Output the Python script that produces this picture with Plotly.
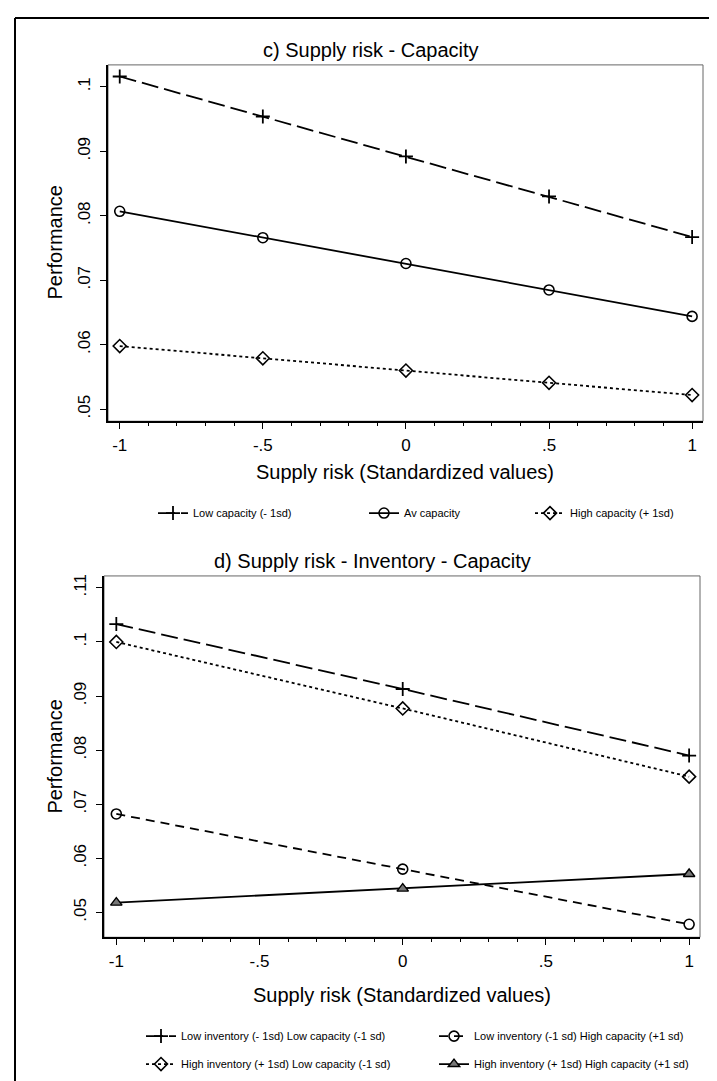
import plotly.graph_objects as go

W, H = 717, 1081

# ---- data ----
x_c = [-1, -0.5, 0, 0.5, 1]
low_cap = [0.1016, 0.0954, 0.0892, 0.0830, 0.0767]
av_cap = [0.0807, 0.0766, 0.0726, 0.0685, 0.0644]
high_cap = [0.0598, 0.0579, 0.0560, 0.0541, 0.0522]

x_d = [-1, 0, 1]
li_lc = [0.1033, 0.0913, 0.0790]
li_hc = [0.0682, 0.0580, 0.0478]
hi_lc = [0.1000, 0.0877, 0.0751]
hi_hc = [0.0518, 0.0544, 0.0571]

x_tickvals = [-1, -0.5, 0, 0.5, 1]
x_ticktext = ["-1", "-.5", "0", ".5", "1"]
yc_tickvals = [0.05, 0.06, 0.07, 0.08, 0.09, 0.10]
yc_ticktext = [".05", ".06", ".07", ".08", ".09", ".1"]
yd_tickvals = [0.05, 0.06, 0.07, 0.08, 0.09, 0.10, 0.11]
yd_ticktext = [".05", ".06", ".07", ".08", ".09", ".1", ".11"]

title_c = "c) Supply risk - Capacity"
title_d = "d) Supply risk - Inventory - Capacity"
x_title = "Supply risk (Standardized values)"
y_title = "Performance"
names_c = ["Low capacity (- 1sd)", "Av capacity", "High capacity (+ 1sd)"]
names_d = ["Low inventory (- 1sd) Low capacity (-1 sd)",
           "Low inventory (-1 sd) High capacity (+1 sd)",
           "High inventory (+ 1sd) Low capacity (-1 sd)",
           "High inventory (+ 1sd) High capacity (+1 sd)"]

FONT = "Liberation Sans, Arial, sans-serif"

def px_x(p):
    return p / W

def px_y(p):
    return 1 - p / H

fig = go.Figure()

LW = 1.8
LONG = "17px,6px"
MED = "9px,6px"
DOT = "3px,3px"
# top chart traces
fig.add_trace(go.Scatter(x=x_c, y=low_cap, name=names_c[0], mode="lines+markers",
                         line=dict(color="black", width=LW, dash=LONG),
                         marker=dict(symbol="cross-thin", size=10, line=dict(color="black", width=1.8)),
                         xaxis="x", yaxis="y", legend="legend"))
fig.add_trace(go.Scatter(x=x_c, y=av_cap, name=names_c[1], mode="lines+markers",
                         line=dict(color="black", width=LW),
                         marker=dict(symbol="circle-open", size=10, color="black", line=dict(width=1.6)),
                         xaxis="x", yaxis="y", legend="legend2"))
fig.add_trace(go.Scatter(x=x_c, y=high_cap, name=names_c[2], mode="lines+markers",
                         line=dict(color="black", width=LW, dash=DOT),
                         marker=dict(symbol="diamond-open", size=10, color="black", line=dict(width=1.6)),
                         xaxis="x", yaxis="y", legend="legend3"))

# bottom chart traces
fig.add_trace(go.Scatter(x=x_d, y=li_lc, name=names_d[0], mode="lines+markers",
                         line=dict(color="black", width=LW, dash=LONG),
                         marker=dict(symbol="cross-thin", size=10, line=dict(color="black", width=1.8)),
                         xaxis="x2", yaxis="y2", legend="legend4"))
fig.add_trace(go.Scatter(x=x_d, y=li_hc, name=names_d[1], mode="lines+markers",
                         line=dict(color="black", width=LW, dash=MED),
                         marker=dict(symbol="circle-open", size=10, color="black", line=dict(width=1.6)),
                         xaxis="x2", yaxis="y2", legend="legend5"))
fig.add_trace(go.Scatter(x=x_d, y=hi_lc, name=names_d[2], mode="lines+markers",
                         line=dict(color="black", width=LW, dash=DOT),
                         marker=dict(symbol="diamond-open", size=10, color="black", line=dict(width=1.6)),
                         xaxis="x2", yaxis="y2", legend="legend6"))
fig.add_trace(go.Scatter(x=x_d, y=hi_hc, name=names_d[3], mode="lines+markers",
                         line=dict(color="black", width=LW),
                         marker=dict(symbol="triangle-up", size=10, color="#777777",
                                     line=dict(color="black", width=1.4)),
                         xaxis="x2", yaxis="y2", legend="legend7"))

def xaxis(domain, rng, anchor):
    return dict(domain=domain, range=rng, anchor=anchor,
                tickvals=x_tickvals, ticktext=x_ticktext,
                showline=True, linecolor="black", linewidth=1.5,
                ticks="outside", ticklen=6, tickwidth=1, tickcolor="black",
                minor=dict(dtick=0.1, tick0=0, ticks="outside", ticklen=3,
                           tickcolor="black", tickwidth=1, showgrid=False),
                showgrid=False, zeroline=False,
                tickfont=dict(family=FONT, size=17, color="black"),
                ticklabelstandoff=2)

def yaxis(domain, rng, anchor, tv, tt):
    return dict(domain=domain, range=rng, anchor=anchor,
                tickvals=tv, ticktext=tt, tickangle=-90,
                showline=True, linecolor="black", linewidth=1.5,
                ticks="outside", ticklen=6, tickwidth=1, tickcolor="black",
                showgrid=False, zeroline=False,
                tickfont=dict(family=FONT, size=17, color="black"),
                ticklabelstandoff=3)

top_x_dom = [px_x(100), px_x(695)]
top_y_dom = [px_y(412), px_y(55)]
bot_x_dom = [px_x(96), px_x(692)]
bot_y_dom = [px_y(929), px_y(567)]

def leg(x, y):
    return dict(x=px_x(x), y=px_y(y), xanchor="left", yanchor="middle",
                orientation="h", bgcolor="rgba(0,0,0,0)", borderwidth=0,
                font=dict(family=FONT, size=11, color="black"),
                itemwidth=30, tracegroupgap=0)

fig.update_layout(
    width=W, height=H,
    margin=dict(l=0, r=0, t=0, b=0),
    paper_bgcolor="white", plot_bgcolor="white",
    font=dict(family=FONT, color="black"),
    xaxis=xaxis(top_x_dom, [-1.041, 1.038], "y"),
    yaxis=yaxis(top_y_dom, [0.04814, 0.1034], "x", yc_tickvals, yc_ticktext),
    xaxis2=xaxis(bot_x_dom, [-1.043, 1.038], "y2"),
    yaxis2=yaxis(bot_y_dom, [0.0454, 0.1122], "x2", yd_tickvals, yd_ticktext),
    legend=leg(145, 504),
    legend2=leg(356, 504),
    legend3=leg(522, 504),
    legend4=leg(133, 1028),
    legend5=leg(426, 1028),
    legend6=leg(133, 1056),
    legend7=leg(426, 1056),
    showlegend=True,
)

shapes = []
# plot box (top/right light frame)
for xr, yr in (("x domain", "y domain"), ("x2 domain", "y2 domain")):
    shapes.append(dict(type="rect", xref=xr, yref=yr, x0=0, x1=1, y0=0, y1=1,
                       line=dict(color="#666666", width=1), layer="below"))
# outer frame
shapes.append(dict(type="line", xref="paper", yref="paper",
                   x0=px_x(7), x1=px_x(712), y0=px_y(8), y1=px_y(8),
                   line=dict(color="black", width=2)))
shapes.append(dict(type="line", xref="paper", yref="paper",
                   x0=px_x(7), x1=px_x(7), y0=px_y(8), y1=0,
                   line=dict(color="black", width=2)))
shapes.append(dict(type="line", xref="paper", yref="paper",
                   x0=px_x(712), x1=px_x(712), y0=px_y(8), y1=0,
                   line=dict(color="#aaaaaa", width=1)))
fig.update_layout(shapes=shapes)

ann = []
ann.append(dict(text=title_c, x=px_x(363), y=px_y(40), xref="paper", yref="paper",
                showarrow=False, font=dict(size=20, family=FONT, color="black"),
                xanchor="center", yanchor="middle"))
ann.append(dict(text=title_d, x=px_x(364), y=px_y(552), xref="paper", yref="paper",
                showarrow=False, font=dict(size=20, family=FONT, color="black"),
                xanchor="center", yanchor="middle"))
ann.append(dict(text=x_title, x=px_x(397), y=px_y(463), xref="paper", yref="paper",
                showarrow=False, font=dict(size=20, family=FONT, color="black"),
                xanchor="center", yanchor="middle"))
ann.append(dict(text=x_title, x=px_x(394), y=px_y(987), xref="paper", yref="paper",
                showarrow=False, font=dict(size=20, family=FONT, color="black"),
                xanchor="center", yanchor="middle"))
ann.append(dict(text=y_title, x=px_x(47), y=px_y(233), xref="paper", yref="paper",
                showarrow=False, textangle=-90, font=dict(size=20, family=FONT, color="black"),
                xanchor="center", yanchor="middle"))
ann.append(dict(text=y_title, x=px_x(47), y=px_y(748), xref="paper", yref="paper",
                showarrow=False, textangle=-90, font=dict(size=20, family=FONT, color="black"),
                xanchor="center", yanchor="middle"))
fig.update_layout(annotations=ann)

fig.write_html("out.html")
